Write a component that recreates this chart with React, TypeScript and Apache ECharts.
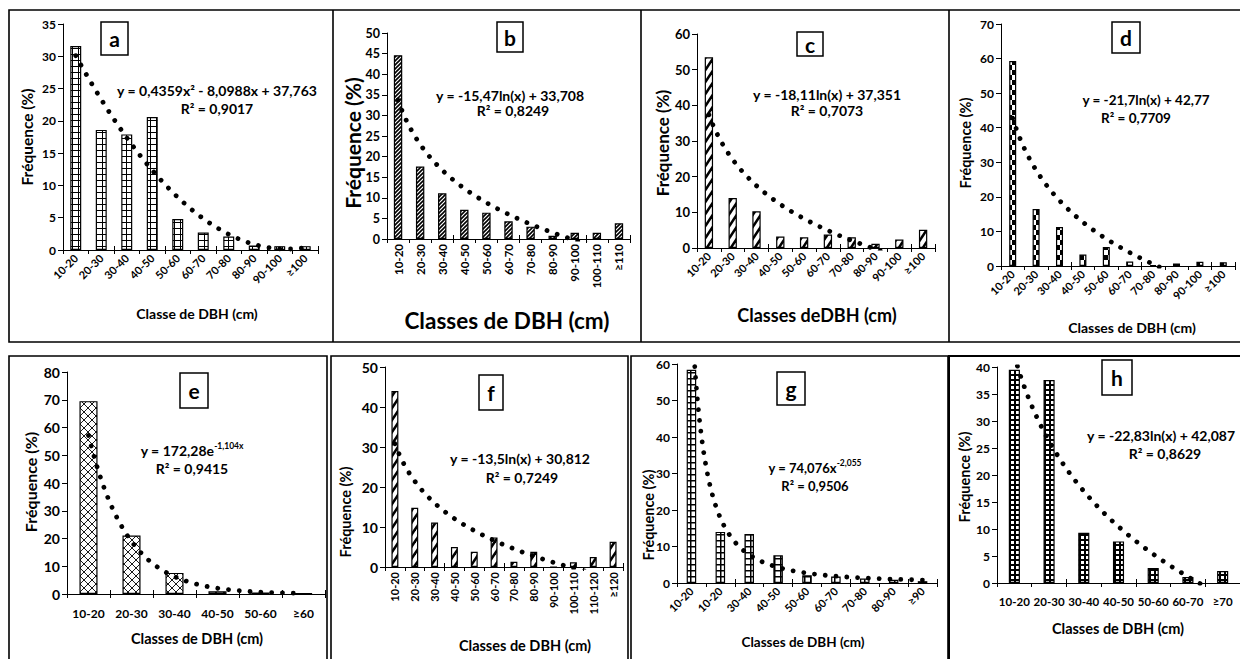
import { useEffect, useRef } from 'react';
import * as echarts from 'echarts';

const FONT = 'Lato, "Open Sans", sans-serif';

// ---------- data ----------
const catsA = ['10-20', '20-30', '30-40', '40-50', '50-60', '60-70', '70-80', '80-90', '90-100', '≥100'];
const valsA = [31.6, 18.6, 17.9, 20.6, 4.8, 2.7, 2.1, 0.7, 0.6, 0.6];
const trendA = [0.4359, -8.0988, 37.763];

const catsB = ['10-20', '20-30', '30-40', '40-50', '50-60', '60-70', '70-80', '80-90', '90-100', '100-110', '≥110'];
const valsB = [44.6, 17.6, 11.1, 7.1, 6.4, 4.3, 3.0, 0.8, 1.5, 1.5, 3.8];
const trendB = [-15.47, 33.708];

const catsC = ['10-20', '20-30', '30-40', '40-50', '50-60', '60-70', '70-80', '80-90', '90-100', '≥100'];
const valsC = [53.5, 14.0, 10.3, 3.2, 3.0, 3.8, 3.0, 1.2, 2.4, 5.1];
const trendC = [-18.11, 37.351];

const catsD = ['10-20', '20-30', '30-40', '40-50', '50-60', '60-70', '70-80', '80-90', '90-100', '≥100'];
const valsD = [59.3, 16.5, 11.3, 3.3, 5.5, 1.3, 0.3, 0.7, 1.2, 1.1];
const trendD = [-21.7, 42.77];

const catsE = ['10-20', '20-30', '30-40', '40-50', '50-60', '≥60'];
const valsE = [69.5, 21.1, 7.6, 1.0, 0.5, 0.3];
const trendE = [172.28, -1.104];

const catsF = ['10-20', '20-30', '30-40', '40-50', '50-60', '60-70', '70-80', '80-90', '90-100', '100-110', '110-120', '≥120'];
const valsF = [44.0, 14.8, 11.1, 5.0, 3.8, 7.4, 1.3, 3.8, 0, 1.2, 2.5, 6.3];
const trendF = [-13.5, 30.812];

const catsG = ['10-20', '10-20', '30-40', '40-50', '50-60', '60-70', '70-80', '80-90', '≥90'];
const valsG = [58.4, 14.0, 13.4, 7.6, 2.1, 1.8, 1.2, 0.9, 0.5];
const trendG = [74.076, -2.055];

const catsH = ['10-20', '20-30', '30-40', '40-50', '50-60', '60-70', '≥70'];
const valsH = [39.5, 37.6, 9.3, 7.7, 2.8, 1.1, 2.2];
const trendH = [-22.83, 42.087];

const eqTexts = {
  a: ['y = 0,4359x² - 8,0988x + 37,763', 'R² = 0,9017'],
  b: ['y = -15,47ln(x) + 33,708', 'R² = 0,8249'],
  c: ['y = -18,11ln(x) + 37,351', 'R² = 0,7073'],
  d: ['y = -21,7ln(x) + 42,77', 'R² = 0,7709'],
  e: ['{b|y = 172,28e}{s|-1,104x}', 'R² = 0,9415'],
  f: ['y = -13,5ln(x) + 30,812', 'R² = 0,7249'],
  g: ['{b|y = 74,076x}{s|-2,055}', 'R² = 0,9506'],
  h: ['y = -22,83ln(x) + 42,087', 'R² = 0,8629'],
};

// ---------- helpers ----------
function trendFn(kind: string, k: number[]) {
  if (kind === 'poly2') return (x: number) => k[0] * x * x + k[1] * x + k[2];
  if (kind === 'log') return (x: number) => k[0] * Math.log(x) + k[1];
  if (kind === 'exp') return (x: number) => k[0] * Math.exp(k[1] * x);
  return (x: number) => k[0] * Math.pow(x, k[1]);
}

function makePattern(kind: string) {
  const c = document.createElement('canvas');
  let w = 6, h = 6;
  if (kind === 'diag') { w = 4; h = 4; }
  if (kind === 'wdiag') { w = 8; h = 12; }
  if (kind === 'checker') { w = 8; h = 10; }
  if (kind === 'cross') { w = 8; h = 8; }
  if (kind === 'dots') { w = 5; h = 5; }
  c.width = w; c.height = h;
  const g = c.getContext('2d')!;
  g.fillStyle = '#fff';
  g.fillRect(0, 0, w, h);
  g.fillStyle = '#000';
  g.strokeStyle = '#000';
  const diagLines = (lw: number, flip: boolean) => {
    g.lineWidth = lw;
    for (let k = -1; k <= 3; k++) {
      g.beginPath();
      if (!flip) { g.moveTo(w * (k + 1), -h); g.lineTo(w * (k - 2), 2 * h); }
      else { g.moveTo(w * (k - 1), -h); g.lineTo(w * (k + 2), 2 * h); }
      g.stroke();
    }
  };
  if (kind === 'grid') { g.fillRect(0, 0, w, 1); g.fillRect(0, 0, 1, h); }
  if (kind === 'gridL') { g.fillRect(0, 0, w, 1.5); g.fillRect(0, 0, 1.5, h); }
  if (kind === 'diag') diagLines(1.6, false);
  if (kind === 'wdiag') diagLines(2.6, false);
  if (kind === 'cross') { diagLines(0.9, false); diagLines(0.9, true); }
  if (kind === 'checker') { g.fillRect(0, 0, w, h); g.fillStyle = '#fff'; g.fillRect(0, 0, 4, 5); g.fillRect(4, 5, 4, 5); }
  if (kind === 'dots') { g.fillRect(0, 0, w, h); g.fillStyle = '#fff'; g.fillRect(1, 1, 3, 3); }
  return { image: c.toDataURL(), repeat: 'repeat', imageWidth: w, imageHeight: h };
}

type Panel = {
  id: string; cats: string[]; vals: number[]; tKind: string; tK: number[];
  left: number; top: number; width: number; height: number;
  yMax: number; yStep: number; rotate: number; barW: string; pattern: string;
  tickFont: number; catFont: number; catMargin: number;
  box: number[]; eq: number[]; eqAlign: string; r2: number[]; eqFont: number;
  yName: number[]; xName: [string, number, number, number];
};

const panels: Panel[] = [
  { id: 'a', cats: catsA, vals: valsA, tKind: 'poly2', tK: trendA, left: 63, top: 24, width: 255, height: 226, yMax: 35, yStep: 5, rotate: 45, barW: '43%', pattern: 'grid', tickFont: 12, catFont: 11, catMargin: 6, box: [101, 22, 27, 33], eq: [217, 90], eqAlign: 'center', r2: [217, 108], eqFont: 14, yName: [27, 137, 15.5], xName: ['Classe de DBH (cm)', 197, 313, 14] },
  { id: 'b', cats: catsB, vals: valsB, tKind: 'log', tK: trendB, left: 387, top: 33, width: 243, height: 206, yMax: 50, yStep: 5, rotate: 90, barW: '38%', pattern: 'diag', tickFont: 12.5, catFont: 11.5, catMargin: 5, box: [497, 22, 26, 30], eq: [510, 95], eqAlign: 'center', r2: [513, 110], eqFont: 14, yName: [352, 143, 21], xName: ['Classes de DBH (cm)', 507, 320, 22.5] },
  { id: 'c', cats: catsC, vals: valsC, tKind: 'log', tK: trendC, left: 697, top: 34, width: 238, height: 214, yMax: 60, yStep: 10, rotate: 45, barW: '35%', pattern: 'wdiag', tickFont: 13, catFont: 11, catMargin: 6, box: [797, 32, 26, 24], eq: [827, 94], eqAlign: 'center', r2: [827, 110], eqFont: 14, yName: [662, 143, 17], xName: ['Classes deDBH (cm)', 817, 315, 18] },
  { id: 'd', cats: catsD, vals: valsD, tKind: 'log', tK: trendD, left: 1001, top: 24, width: 234, height: 242, yMax: 70, yStep: 10, rotate: 45, barW: '30%', pattern: 'checker', tickFont: 12, catFont: 11, catMargin: 6, box: [1112, 22, 28, 31], eq: [1146, 100], eqAlign: 'center', r2: [1136, 118], eqFont: 13.5, yName: [965, 143, 14.5], xName: ['Classes de DBH (cm)', 1132, 327, 14] },
  { id: 'e', cats: catsE, vals: valsE, tKind: 'exp', tK: trendE, left: 67, top: 372, width: 258, height: 222, yMax: 80, yStep: 10, rotate: 0, barW: '42%', pattern: 'cross', tickFont: 14, catFont: 12, catMargin: 13, box: [180, 373, 28, 35], eq: [192, 449], eqAlign: 'center', r2: [192, 468], eqFont: 14, yName: [30, 482, 16], xName: ['Classes de DBH (cm)', 197, 638, 14.5] },
  { id: 'f', cats: catsF, vals: valsF, tKind: 'log', tK: trendF, left: 385, top: 367, width: 238, height: 200, yMax: 50, yStep: 10, rotate: 90, barW: '35%', pattern: 'wdiag', tickFont: 14, catFont: 11, catMargin: 5, box: [479, 375, 24, 35], eq: [520, 458], eqAlign: 'center', r2: [522, 477], eqFont: 14, yName: [345, 512, 14.5], xName: ['Classes de DBH (cm)', 525, 645, 14.5] },
  { id: 'g', cats: catsG, vals: valsG, tKind: 'power', tK: trendG, left: 677, top: 364, width: 260, height: 219, yMax: 60, yStep: 10, rotate: 45, barW: '33%', pattern: 'gridL', tickFont: 12, catFont: 11, catMargin: 6, box: [777, 372, 28, 33], eq: [815, 466], eqAlign: 'center', r2: [815, 486], eqFont: 13, yName: [648, 515, 14.5], xName: ['Classes de DBH (cm)', 803, 642, 13.5] },
  { id: 'h', cats: catsH, vals: valsH, tKind: 'log', tK: trendH, left: 997, top: 367, width: 243, height: 216, yMax: 40, yStep: 5, rotate: 0, barW: '32%', pattern: 'dots', tickFont: 12, catFont: 11.5, catMargin: 12, box: [1102, 360, 30, 35], eq: [1087, 435], eqAlign: 'left', r2: [1165, 453], eqFont: 14, yName: [964, 477, 14.5], xName: ['Classes de DBH (cm)', 1118, 628, 14.5] },
];

function buildOption() {
  const grid: any[] = [];
  const xAxis: any[] = [];
  const yAxis: any[] = [];
  const series: any[] = [];
  const graphic: any[] = [];
  const axisColor = '#000';

  panels.forEach((p, i) => {
    const n = p.cats.length;
    grid.push({ left: p.left, top: p.top, width: p.width, height: p.height, containLabel: false, outerBoundsMode: 'none' });
    xAxis.push({
      gridIndex: i, type: 'category', data: p.cats, position: 'bottom', boundaryGap: true,
      axisLine: { show: true, lineStyle: { color: axisColor, width: 1 } },
      axisTick: { show: true, length: 4, lineStyle: { color: axisColor, width: 1 } },
      axisLabel: { show: true, interval: 0, rotate: p.rotate, margin: p.catMargin, color: '#000', fontFamily: FONT, fontWeight: 'bold', fontSize: p.catFont },
      splitLine: { show: false },
    });
    xAxis.push({
      gridIndex: i, type: 'category', data: p.cats, position: 'bottom', boundaryGap: true,
      axisLine: { show: false },
      axisTick: { show: true, inside: true, length: 4, lineStyle: { color: axisColor, width: 1 } },
      axisLabel: { show: false }, splitLine: { show: false },
    });
    xAxis.push({ gridIndex: i, type: 'value', min: 0.5, max: n + 0.5, show: false, position: 'bottom' });
    yAxis.push({
      gridIndex: i, type: 'value', min: 0, max: p.yMax, interval: p.yStep,
      axisLine: { show: true, lineStyle: { color: axisColor, width: 1 } },
      axisTick: { show: true, length: 5, lineStyle: { color: axisColor, width: 1 } },
      axisLabel: { show: true, color: '#000', fontFamily: FONT, fontWeight: 'bold', fontSize: p.tickFont, margin: 7 },
      splitLine: { show: false },
    });
    series.push({
      type: 'bar', xAxisIndex: 3 * i, yAxisIndex: i, data: p.vals, barWidth: p.barW,
      itemStyle: { color: makePattern(p.pattern), borderColor: '#000', borderWidth: 1.2 },
      silent: true,
    });
    const f = trendFn(p.tKind, p.tK);
    const pts: number[][] = [];
    for (let x = 1; x <= n + 1e-9; x += 0.02) pts.push([x, f(x)]);
    series.push({
      type: 'line', xAxisIndex: 3 * i + 2, yAxisIndex: i, data: pts, showSymbol: false, symbol: 'none',
      clip: true, silent: true, z: 5,
      lineStyle: { color: '#000', width: 4.8, type: [0.01, 10.8], cap: 'round' },
    });

    // letter box
    graphic.push({ type: 'rect', z: 100, shape: { x: p.box[0], y: p.box[1], width: p.box[2], height: p.box[3] }, style: { fill: '#fff', stroke: '#000', lineWidth: 1.5 } });
    graphic.push({ type: 'text', z: 101, x: p.box[0] + p.box[2] / 2, y: p.box[1] + p.box[3] / 2, style: { text: p.id, fill: '#000', fontFamily: FONT, fontWeight: 'bold', fontSize: 21, textAlign: 'center', textVerticalAlign: 'middle' } });
    // equations
    const et = (eqTexts as any)[p.id];
    graphic.push({
      type: 'text', z: 101, x: p.eq[0], y: p.eq[1],
      style: {
        text: et[0], fill: '#000', fontFamily: FONT, fontWeight: 'bold', fontSize: p.eqFont,
        textAlign: p.eqAlign, textVerticalAlign: 'middle',
        rich: {
          b: { fontFamily: FONT, fontWeight: 'bold', fontSize: p.eqFont, lineHeight: 16, verticalAlign: 'bottom', fill: '#000' },
          s: { fontFamily: FONT, fontWeight: 'bold', fontSize: 8.5, lineHeight: 10, verticalAlign: 'top', fill: '#000' },
        },
      },
    });
    graphic.push({ type: 'text', z: 101, x: p.r2[0], y: p.r2[1], style: { text: et[1], fill: '#000', fontFamily: FONT, fontWeight: 'bold', fontSize: p.eqFont, textAlign: 'center', textVerticalAlign: 'middle' } });
    // axis names
    graphic.push({ type: 'text', z: 101, x: p.yName[0], y: p.yName[1], rotation: Math.PI / 2, style: { text: 'Fréquence (%)', fill: '#000', fontFamily: FONT, fontWeight: 'bold', fontSize: p.yName[2], textAlign: 'center', textVerticalAlign: 'middle' } });
    graphic.push({ type: 'text', z: 101, x: p.xName[1], y: p.xName[2], style: { text: p.xName[0], fill: '#000', fontFamily: FONT, fontWeight: 'bold', fontSize: p.xName[3], textAlign: 'center', textVerticalAlign: 'middle' } });
  });

  const bs = { fill: 'none', stroke: '#000', lineWidth: 1.6 };
  graphic.push({ type: 'rect', z: 90, shape: { x: 9, y: 10, width: 1250, height: 332 }, style: bs });
  [333, 641, 949].forEach((x) => graphic.push({ type: 'line', z: 90, shape: { x1: x, y1: 10, x2: x, y2: 342 }, style: { stroke: '#000', lineWidth: 1.6 } }));
  graphic.push({ type: 'rect', z: 90, shape: { x: 9, y: 356, width: 318, height: 330 }, style: bs });
  graphic.push({ type: 'rect', z: 90, shape: { x: 331, y: 356, width: 297, height: 330 }, style: bs });
  graphic.push({ type: 'rect', z: 90, shape: { x: 631, y: 356, width: 317, height: 330 }, style: bs });
  graphic.push({ type: 'rect', z: 90, shape: { x: 949, y: 356, width: 320, height: 330 }, style: { fill: 'none', stroke: '#000', lineWidth: 2 } });

  return { animation: false, backgroundColor: '#fff', grid, xAxis, yAxis, series, graphic };
}

export default function App() {
  const ref = useRef<HTMLDivElement>(null);
  useEffect(() => {
    if (!ref.current) return;
    const chart = echarts.init(ref.current, undefined, { renderer: 'svg' });
    chart.setOption(buildOption() as any);
    return () => chart.dispose();
  }, []);
  return <div ref={ref} style={{ position: 'absolute', left: 0, top: 0, width: 1240, height: 659 }} />;
}
